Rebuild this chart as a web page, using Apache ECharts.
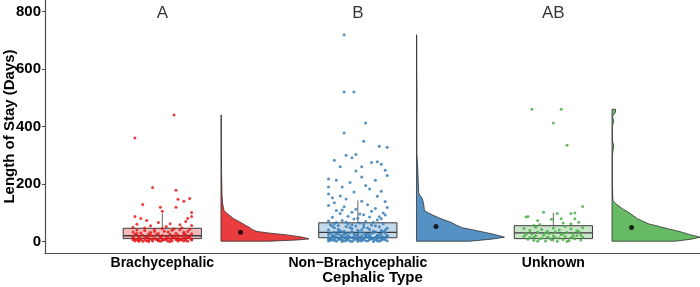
<!DOCTYPE html>
<html>
<head>
<meta charset="utf-8">
<script src="https://cdn.jsdelivr.net/npm/echarts@6/dist/echarts.min.js"></script>
<style>
  html, body { margin: 0; padding: 0; background: #fff; }
  #chart { width: 700px; height: 287px; }
</style>
</head>
<body>
<div id="chart"></div>
<script>
// categories and letters above each group
var categories = ['Brachycephalic', 'Non\u2212Brachycephalic', 'Unknown'];
var groupLetters = ['A', 'B', 'AB'];
var groupColors = ['#E41A1C', '#377EB8', '#4DAF4A'];

// box stats: [lower whisker, Q1, median, Q3, upper whisker]
var boxStats = [
    [0, 10, 20, 46, 98],
    [0, 13, 32, 65, 143],
    [0, 10, 30, 55, 100]
];
var meanValues = [32, 52, 49];

// half violin density outline: [days, relative density]
var brachyDensity = [[1, 0.55], [5, 0.85], [9, 1.0], [15, 0.93], [23, 0.75], [29, 0.56], [35, 0.41], [41, 0.36],
    [50, 0.32], [58, 0.27], [67, 0.22], [80, 0.14], [97, 0.07], [108, 0.035], [130, 0.02], [160, 0.012],
    [250, 0.006], [440, 0.004]];
var nonBrachyDensity = [[1, 0.6], [8, 0.85], [15, 1.0], [21, 0.93], [27, 0.85], [38, 0.68], [48, 0.52], [56, 0.46],
    [67, 0.39], [79, 0.28], [91, 0.19], [102, 0.12], [108, 0.09], [133, 0.08], [150, 0.065], [167, 0.026],
    [210, 0.02], [248, 0.015], [307, 0.005], [400, 0.004], [520, 0.006], [600, 0.003], [719, 0.003]];
var unknownDensity = [[1, 0.72], [8, 0.9], [15, 1.0], [25, 0.87], [33, 0.79], [44, 0.64], [62, 0.41], [79, 0.29],
    [97, 0.21], [114, 0.12], [132, 0.04], [143, 0.01], [200, 0.004], [300, 0.004], [335, 0.02], [350, 0.004],
    [400, 0.004], [420, 0.02], [435, 0.004], [450, 0.04], [460, 0.04]];

// jittered raw points: [offset from group centre, days]
var brachyPoints = [[0.06, 440], [-0.14, 360], [-0.05, 188], [0.07, 178], [0.08, 147], [0.11, 140], [0.14, 150],
    [-0.10, 129], [0.07, 119], [-0.01, 119], [0.0, 105], [0.15, 101], [0.15, 87], [-0.14, 87], [-0.11, 80],
    [0.13, 80], [-0.08, 73], [0.12, 70], [-0.02, 66], [0.04, 62], [-0.13, 60], [0.09, 58], [0.15, 56],
    [-0.06, 55], [0.02, 52], [-0.15, 50], [0.10, 48],
    [-0.13, 40], [-0.09, 38], [-0.04, 42], [0.01, 36], [0.05, 39], [0.09, 41], [0.13, 35], [-0.15, 33],
    [-0.11, 30], [-0.06, 31], [-0.02, 28], [0.03, 33], [0.07, 29], [0.11, 32], [0.15, 27], [-0.14, 25],
    [-0.10, 22], [-0.07, 26], [-0.03, 24], [0.0, 21], [0.04, 25], [0.08, 22], [0.12, 24], [0.14, 20],
    [-0.12, 18], [-0.08, 16], [-0.05, 19], [-0.01, 15], [0.02, 17], [0.06, 14], [0.10, 18], [0.13, 15],
    [-0.15, 12], [-0.11, 10], [-0.07, 13], [-0.04, 11], [0.0, 9], [0.03, 12], [0.07, 10], [0.11, 11],
    [0.15, 8], [-0.13, 6], [-0.09, 5], [-0.06, 8], [-0.02, 4], [0.01, 7], [0.05, 3], [0.09, 6], [0.12, 4],
    [-0.14, 2], [-0.10, 1], [-0.05, 2], [-0.01, 1], [0.04, 0], [0.08, 2], [0.13, 1], [-0.12, 14], [-0.03, 6],
    [0.06, 20], [0.14, 12], [-0.08, 3], [0.02, 10], [0.10, 5], [-0.15, 17], [-0.06, 23], [0.05, 16],
    [0.12, 9], [-0.11, 7], [-0.01, 12], [0.08, 14], [-0.04, 35], [0.11, 26], [-0.13, 28], [0.00, 45],
    [0.06, 44], [-0.09, 47], [0.14, 43], [-0.02, 3], [0.03, 1], [0.09, 8], [-0.07, 0], [-0.12, 4],
    [-0.14, 9], [-0.09, 13], [-0.05, 7], [0.0, 4], [0.04, 9], [0.08, 5], [0.12, 13], [-0.12, 1],
    [-0.07, 5], [-0.03, 9], [0.02, 5], [0.07, 7], [0.11, 2], [0.15, 5], [-0.15, 6], [0.05, 11]];
var nonBrachyPoints = [[-0.15, 2], [-0.13, 5], [-0.11, 1], [-0.09, 8], [-0.07, 3], [-0.05, 6], [-0.03, 0],
    [-0.01, 9], [0.01, 4], [0.03, 7], [0.05, 2], [0.07, 10], [0.09, 5], [0.11, 1], [0.13, 8], [0.15, 3],
    [-0.14, 9], [-0.12, 4], [-0.10, 7], [-0.08, 0], [-0.06, 10], [-0.04, 2], [-0.02, 5], [0.0, 1], [0.02, 8],
    [0.04, 3], [0.06, 6], [0.08, 0], [0.10, 9], [0.12, 4], [0.14, 6],
    [-0.15, 14], [-0.12, 18], [-0.09, 11], [-0.06, 16], [-0.03, 13], [0.0, 19], [0.03, 12], [0.06, 17],
    [0.09, 15], [0.12, 11], [0.15, 19], [-0.14, 12], [-0.11, 15], [-0.08, 20], [-0.05, 11], [-0.02, 17],
    [0.01, 14], [0.04, 20], [0.07, 13], [0.10, 18], [0.13, 16], [-0.13, 17], [-0.07, 14], [0.05, 15], [0.11, 13],
    [-0.15, 24], [-0.12, 31], [-0.09, 22], [-0.06, 28], [-0.03, 34], [0.0, 25], [0.03, 30], [0.06, 23],
    [0.09, 33], [0.12, 27], [0.15, 21], [-0.14, 29], [-0.11, 26], [-0.08, 33], [-0.05, 21], [-0.02, 27],
    [0.01, 32], [0.04, 24], [0.07, 29], [0.10, 22], [0.13, 34], [-0.10, 35], [0.02, 21], [0.14, 30],
    [-0.15, 40], [-0.12, 48], [-0.09, 37], [-0.06, 52], [-0.03, 44], [0.0, 39], [0.03, 50], [0.06, 42],
    [0.09, 55], [0.12, 38], [0.15, 46], [-0.13, 53], [-0.10, 43], [-0.07, 36], [-0.04, 49], [-0.01, 54],
    [0.02, 41], [0.05, 47], [0.08, 36], [0.11, 51], [0.14, 40],
    [-0.14, 58], [-0.11, 66], [-0.08, 73], [-0.05, 61], [-0.02, 78], [0.01, 64], [0.04, 70], [0.07, 57],
    [0.10, 75], [0.13, 62], [-0.15, 71], [-0.06, 68], [0.03, 59], [0.12, 79], [-0.10, 56], [0.08, 67],
    [-0.13, 84], [-0.09, 97], [-0.05, 88], [-0.01, 112], [0.03, 93], [0.07, 105], [0.11, 86], [0.15, 118],
    [-0.15, 125], [-0.07, 121], [0.0, 81], [0.05, 128], [0.13, 99], [-0.11, 108], [0.09, 115], [-0.03, 102],
    [-0.12, 135], [-0.06, 148], [0.02, 140], [0.10, 157], [-0.15, 165], [-0.02, 172], [0.06, 183], [0.14, 139],
    [-0.09, 158], [0.04, 195], [-0.13, 152], [0.12, 175], [-0.08, 190], [0.09, 213], [-0.15, 190],
    [-0.11, 213], [-0.04, 205], [0.15, 230], [-0.15, 217], [-0.09, 260], [-0.01, 245], [0.02, 224],
    [0.14, 248], [-0.12, 283], [-0.06, 300], [-0.03, 291], [-0.01, 303], [0.02, 260], [0.07, 275],
    [0.10, 277], [0.12, 269], [-0.07, 377], [0.03, 349], [0.11, 331], [0.15, 328], [0.04, 412],
    [-0.07, 520], [-0.02, 520], [-0.07, 719],
    [-0.14, 4], [-0.10, 12], [-0.06, 3], [-0.02, 11], [0.02, 2], [0.06, 12], [0.10, 3], [0.14, 14],
    [-0.12, 9], [-0.08, 6], [-0.04, 15], [0.0, 7], [0.04, 16], [0.08, 8], [0.12, 17], [-0.15, 8],
    [-0.13, 22], [-0.07, 25], [-0.01, 23], [0.05, 26], [0.11, 24], [-0.10, 28], [-0.04, 30], [0.08, 31],
    [-0.12, 62], [-0.03, 58], [0.06, 85], [0.14, 92], [-0.08, 110], [0.01, 96]];
var unknownPoints = [[-0.11, 460], [0.04, 460], [0.0, 412], [0.07, 335], [0.15, 122],
    [-0.05, 102], [-0.14, 85], [-0.13, 87], [-0.01, 77], [0.02, 97], [0.09, 97], [0.11, 99], [0.04, 79],
    [0.11, 79], [-0.08, 73], [0.13, 67], [0.05, 64], [0.09, 62], [-0.07, 59], [-0.10, 56],
    [-0.15, 45], [-0.12, 38], [-0.09, 50], [-0.06, 42], [-0.03, 36], [0.0, 47], [0.03, 40], [0.06, 52],
    [0.09, 44], [0.12, 37], [0.15, 48], [-0.14, 30], [-0.11, 26], [-0.08, 33], [-0.05, 22], [-0.02, 28],
    [0.01, 34], [0.04, 24], [0.07, 31], [0.10, 27], [0.13, 35], [-0.15, 18], [-0.12, 14], [-0.09, 20],
    [-0.06, 11], [-0.03, 16], [0.0, 19], [0.03, 12], [0.06, 17], [0.09, 13], [0.12, 20], [0.15, 15],
    [-0.13, 8], [-0.10, 4], [-0.07, 9], [-0.04, 2], [-0.01, 6], [0.02, 1], [0.05, 7], [0.08, 3], [0.11, 10],
    [0.14, 5], [-0.14, 25], [-0.04, 30], [0.05, 27], [0.14, 23], [-0.10, 15], [0.01, 14], [0.10, 18],
    [-0.08, 1], [0.07, 0], [-0.02, 11]];

var yTicks = [0, 200, 400, 600, 800];

var densities = [brachyDensity, nonBrachyDensity, unknownDensity];
var rawPoints = [brachyPoints, nonBrachyPoints, unknownPoints];

var FONT = 'Liberation Sans, Arial, sans-serif';
var BOX_HALF = 0.2;
var VIOLIN_OFFSET = 0.3;
var VIOLIN_WIDTH = 0.45;
var MEAN_OFFSET = 0.4;
var LETTER_Y = 795;

function renderViolin(params, api) {
    var gi = params.dataIndex;
    var x0 = gi + 1 + VIOLIN_OFFSET;
    var dens = densities[gi];
    var pts = [api.coord([x0, dens[0][0]])];
    dens.forEach(function (d) {
        pts.push(api.coord([x0 + d[1] * VIOLIN_WIDTH, d[0]]));
    });
    pts.push(api.coord([x0, dens[dens.length - 1][0]]));
    return {
        type: 'polygon',
        shape: { points: pts },
        style: { fill: groupColors[gi], opacity: 0.85, stroke: '#2b2b2b', lineWidth: 0.9 }
    };
}

function renderBox(params, api) {
    var gi = params.dataIndex;
    var s = boxStats[gi];
    var cx = gi + 1;
    var tl = api.coord([cx - BOX_HALF, s[3]]);
    var br = api.coord([cx + BOX_HALF, s[1]]);
    var ml = api.coord([cx - BOX_HALF, s[2]]);
    var mr = api.coord([cx + BOX_HALF, s[2]]);
    var wTop = api.coord([cx, s[4]]);
    var wBot = api.coord([cx, s[0]]);
    var fill = echarts.color.modifyAlpha(groupColors[gi], 0.3);
    return {
        type: 'group',
        children: [
            { type: 'line', shape: { x1: wTop[0], y1: wTop[1], x2: wTop[0], y2: tl[1] },
              style: { stroke: '#666', lineWidth: 1 } },
            { type: 'line', shape: { x1: wBot[0], y1: br[1], x2: wBot[0], y2: wBot[1] },
              style: { stroke: '#666', lineWidth: 1 } },
            { type: 'rect', shape: { x: tl[0], y: tl[1], width: br[0] - tl[0], height: br[1] - tl[1] },
              style: { fill: fill, stroke: '#3a3a3a', lineWidth: 1 } },
            { type: 'line', shape: { x1: ml[0], y1: ml[1], x2: mr[0], y2: mr[1] },
              style: { stroke: '#3a3a3a', lineWidth: 1.3 } }
        ]
    };
}

var groupIdx = categories.map(function (c, i) { return [i + 1, 0]; });

var series = [
    { type: 'custom', renderItem: renderViolin, data: groupIdx, z: 1, silent: true },
    { type: 'custom', renderItem: renderBox, data: groupIdx, z: 2, silent: true }
];

rawPoints.forEach(function (pts, gi) {
    series.push({
        type: 'scatter',
        symbolSize: 3,
        z: 3,
        itemStyle: { color: groupColors[gi], opacity: 0.85 },
        data: pts.map(function (p) { return [gi + 1 + p[0], p[1]]; })
    });
});

series.push({
    type: 'scatter',
    symbolSize: 5,
    z: 4,
    itemStyle: { color: '#000' },
    data: meanValues.map(function (m, i) { return [i + 1 + MEAN_OFFSET, m]; })
});

series.push({
    type: 'scatter',
    symbolSize: 0,
    z: 4,
    label: {
        show: true, position: 'inside', color: '#000', fontSize: 17, fontFamily: FONT,
        formatter: function (p) { return p.value[2]; }
    },
    data: groupLetters.map(function (l, i) { return [i + 1, LETTER_Y, l]; })
});

var chart = echarts.init(document.getElementById('chart'), null, { renderer: 'canvas' });
chart.setOption({
    animation: false,
    backgroundColor: '#fff',
    grid: { left: 45, right: 0, top: 0, bottom: 34, containLabel: false, outerBoundsMode: 'none' },
    xAxis: {
        type: 'value',
        min: 0.4,
        max: 3.75,
        splitLine: { show: false },
        axisLine: { show: true, onZero: false, lineStyle: { color: '#4d4d4d', width: 1.2 } },
        axisTick: { show: false },
        axisLabel: {
            customValues: [1, 2, 3],
            margin: 3,
            color: '#000',
            fontSize: 14,
            fontWeight: 'bold',
            fontFamily: FONT,
            formatter: function (v) { return categories[Math.round(v) - 1]; }
        },
        name: 'Cephalic Type',
        nameLocation: 'middle',
        nameGap: 17,
        nameMoveOverlap: false,
        nameTextStyle: { color: '#000', fontSize: 15, fontWeight: 'bold', fontFamily: FONT }
    },
    yAxis: {
        type: 'value',
        min: -40,
        max: 840,
        splitLine: { show: false },
        axisLine: { show: true, onZero: false, lineStyle: { color: '#4d4d4d', width: 1.2 } },
        axisTick: { show: true, customValues: yTicks, length: 3, lineStyle: { color: '#4d4d4d' } },
        axisLabel: {
            customValues: yTicks,
            margin: 4,
            color: '#000',
            fontSize: 15,
            fontWeight: 'bold',
            fontFamily: FONT
        },
        name: 'Length of Stay (Days)',
        nameLocation: 'middle',
        nameGap: 28,
        nameMoveOverlap: false,
        nameTextStyle: { color: '#000', fontSize: 15, fontWeight: 'bold', fontFamily: FONT }
    },
    series: series
});
</script>
</body>
</html>
